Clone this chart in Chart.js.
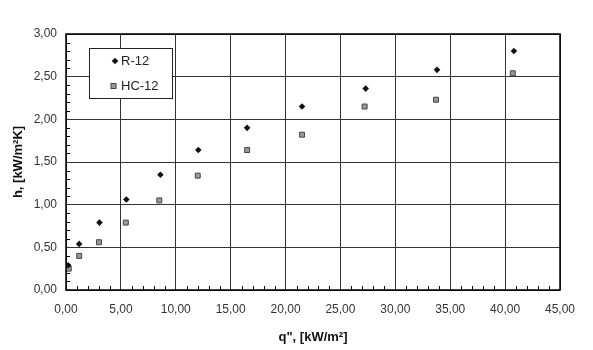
<!DOCTYPE html>
<html>
<head>
<meta charset="utf-8">
<script src="https://cdn.jsdelivr.net/npm/chart.js@4/dist/chart.umd.min.js"></script>
<style>
  html, body { margin: 0; padding: 0; background: #fff; }
  #wrap { width: 593px; height: 350px; }
</style>
</head>
<body>
<div id="wrap"><canvas id="grafico"></canvas></div>
<script>
// datos
const qR12  = [0.2, 1.2, 3.05, 5.5, 8.6, 12.05, 16.5, 21.5, 27.3, 33.8, 40.8];
const hR12  = [0.29, 0.54, 0.79, 1.06, 1.35, 1.64, 1.90, 2.15, 2.36, 2.58, 2.80];
const qHC12 = [0.25, 1.2, 3.0, 5.45, 8.5, 12.0, 16.5, 21.5, 27.2, 33.7, 40.7];
const hHC12 = [0.25, 0.40, 0.56, 0.79, 1.05, 1.34, 1.64, 1.82, 2.15, 2.23, 2.54];
const nombresSeries = ['R-12', 'HC-12'];
const tituloX = 'q", [kW/m²]';
const tituloY = 'h, [kW/m²K]';

const fuente = '"Liberation Sans", Arial, sans-serif';
const coma = v => Number(v).toFixed(2).replace('.', ',');

// leyenda dentro del área, marco y marcas menores
const extras = {
    id: 'extras',
    afterDraw(chart) {
        const ctx = chart.ctx;
        const a = chart.chartArea;
        const sx = chart.scales.x, sy = chart.scales.y;
        ctx.save();
        ctx.strokeStyle = '#000';
        ctx.lineWidth = 1;
        // marcas menores eje x
        for (let v = 1; v < 45; v++) {
            if (v % 5 === 0) continue;
            const px = Math.round(sx.getPixelForValue(v)) + 0.5;
            ctx.beginPath(); ctx.moveTo(px, a.bottom); ctx.lineTo(px, a.bottom - 4); ctx.stroke();
        }
        // marcas menores eje y
        for (let i = 1; i < 30; i++) {
            if (i % 5 === 0) continue;
            const py = Math.round(sy.getPixelForValue(i / 10)) + 0.5;
            ctx.beginPath(); ctx.moveTo(a.left, py); ctx.lineTo(a.left + 4, py); ctx.stroke();
        }
        // marco
        ctx.lineWidth = 1.5;
        ctx.strokeRect(a.left, a.top, a.right - a.left, a.bottom - a.top);

        // leyenda
        const lx = a.left + 23, ly = a.top + 14;
        ctx.fillStyle = '#fff';
        ctx.fillRect(lx, ly, 83, 50);
        ctx.lineWidth = 1;
        ctx.strokeStyle = '#222';
        ctx.strokeRect(lx + 0.5, ly + 0.5, 83, 50);

        // diamante
        ctx.fillStyle = '#111';
        ctx.beginPath();
        ctx.moveTo(lx + 26 - 3.3, ly + 13);
        ctx.lineTo(lx + 26, ly + 13 - 3.3);
        ctx.lineTo(lx + 26 + 3.3, ly + 13);
        ctx.lineTo(lx + 26, ly + 13 + 3.3);
        ctx.closePath();
        ctx.fill();
        // cuadro
        ctx.fillStyle = '#999';
        ctx.strokeStyle = '#444';
        ctx.fillRect(lx + 22, ly + 35.5, 5, 5);
        ctx.strokeRect(lx + 22, ly + 35.5, 5, 5);

        ctx.fillStyle = '#222';
        ctx.font = '13px ' + fuente;
        ctx.textBaseline = 'middle';
        ctx.fillText(nombresSeries[0], lx + 32, ly + 13);
        ctx.fillText(nombresSeries[1], lx + 32, ly + 38);
        ctx.restore();
    }
};

const ctx = document.getElementById('grafico').getContext('2d');
new Chart(ctx, {
    type: 'scatter',
    data: {
        datasets: [
            {
                label: nombresSeries[0],
                data: qR12.map((q, i) => ({ x: q, y: hR12[i] })),
                pointStyle: 'rectRot',
                pointRadius: 3.3,
                backgroundColor: '#111',
                borderColor: '#111',
                borderWidth: 0
            },
            {
                label: nombresSeries[1],
                data: qHC12.map((q, i) => ({ x: q, y: hHC12[i] })),
                pointStyle: 'rect',
                pointRadius: 3.5,
                backgroundColor: '#999',
                borderColor: '#444',
                borderWidth: 1
            }
        ]
    },
    options: {
        responsive: true,
        maintainAspectRatio: false,
        animation: false,
        layout: { padding: { left: 0, right: 33, top: 34, bottom: 0 } },
        plugins: {
            legend: { display: false },
            tooltip: { enabled: false }
        },
        scales: {
            x: {
                type: 'linear',
                min: 0, max: 45,
                afterFit: s => { s.height = 60; },
                grid: { color: '#333', lineWidth: 1, drawTicks: false },
                border: { display: false },
                ticks: {
                    stepSize: 5, padding: 12, color: '#333',
                    font: { family: fuente, size: 12 },
                    callback: v => coma(v)
                },
                title: {
                    display: true, text: tituloX, color: '#111',
                    font: { family: fuente, size: 13, weight: 'bold' },
                    padding: { top: 0, bottom: 5 }
                }
            },
            y: {
                min: 0, max: 3,
                afterFit: s => { s.width = 66; },
                grid: { color: '#333', lineWidth: 1, drawTicks: false },
                border: { display: false },
                ticks: {
                    stepSize: 0.5, padding: 9, color: '#333',
                    font: { family: fuente, size: 12 },
                    callback: v => coma(v)
                },
                title: {
                    display: true, text: tituloY, color: '#111',
                    font: { family: fuente, size: 13, weight: 'bold' },
                    padding: { top: 11, bottom: 0 }
                }
            }
        }
    },
    plugins: [extras]
});
</script>
</body>
</html>
